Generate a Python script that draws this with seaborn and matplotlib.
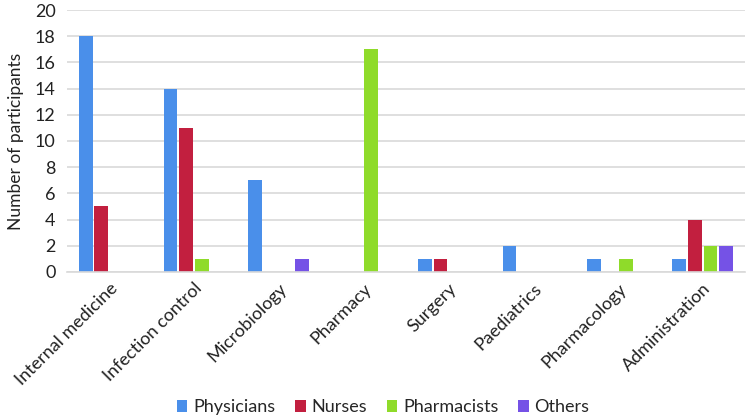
import pandas as pd
import matplotlib.pyplot as plt
import seaborn as sns

categorias = ["Internal medicine", "Infection control", "Microbiology", "Pharmacy",
              "Surgery", "Paediatrics", "Pharmacology", "Administration"]
physicians = [18, 14, 7, 0, 1, 2, 1, 1]
nurses = [5, 11, 0, 0, 1, 0, 0, 4]
pharmacists = [0, 1, 0, 17, 0, 0, 1, 2]
others = [0, 0, 1, 0, 0, 0, 0, 2]

series = {"Physicians": physicians, "Nurses": nurses,
          "Pharmacists": pharmacists, "Others": others}
colores = ["#4a8fea", "#c21f3f", "#8fdb2a", "#7552e6"]

filas = []
for grupo, valores in series.items():
    for cat, v in zip(categorias, valores):
        filas.append({"categoria": cat, "grupo": grupo, "valor": v})
df = pd.DataFrame(filas)

sns.set_theme(style="white")
plt.rcParams["font.family"] = ["Lato", "DejaVu Sans"]

fig = plt.figure(figsize=(7.51, 4.19), dpi=100)
ax = fig.add_axes([0.089, 0.351, 0.903, 0.625])

sns.barplot(data=df, x="categoria", y="valor", hue="grupo", palette=colores,
            width=0.74, gap=0.12, errorbar=None, ax=ax, saturation=1, linewidth=0)

ax.set_ylim(0, 20)
ax.set_yticks(range(0, 21, 2))
ax.yaxis.grid(True, color="#d9d9d9", linewidth=1.2)
ax.set_axisbelow(True)
for lado in ["top", "right", "left"]:
    ax.spines[lado].set_visible(False)
ax.spines["bottom"].set_color("#d9d9d9")
ax.spines["bottom"].set_linewidth(1.2)
ax.tick_params(axis="both", length=0, labelsize=13, colors="#222222")
ax.tick_params(axis="y", pad=8)
ax.tick_params(axis="x", pad=6)
plt.setp(ax.get_xticklabels(), rotation=45, ha="right", rotation_mode="anchor")
ax.set_xlabel("")
ax.set_ylabel("Number of participants", fontsize=12.5, color="#222222", labelpad=8)

ax.legend(loc="center", bbox_to_anchor=(0.51, 0.028), bbox_transform=fig.transFigure,
          ncol=4, frameon=False, fontsize=13, handlelength=0.6, handleheight=0.6,
          handletextpad=0.3, columnspacing=1.1)

fig.savefig("out.png", dpi=100)
